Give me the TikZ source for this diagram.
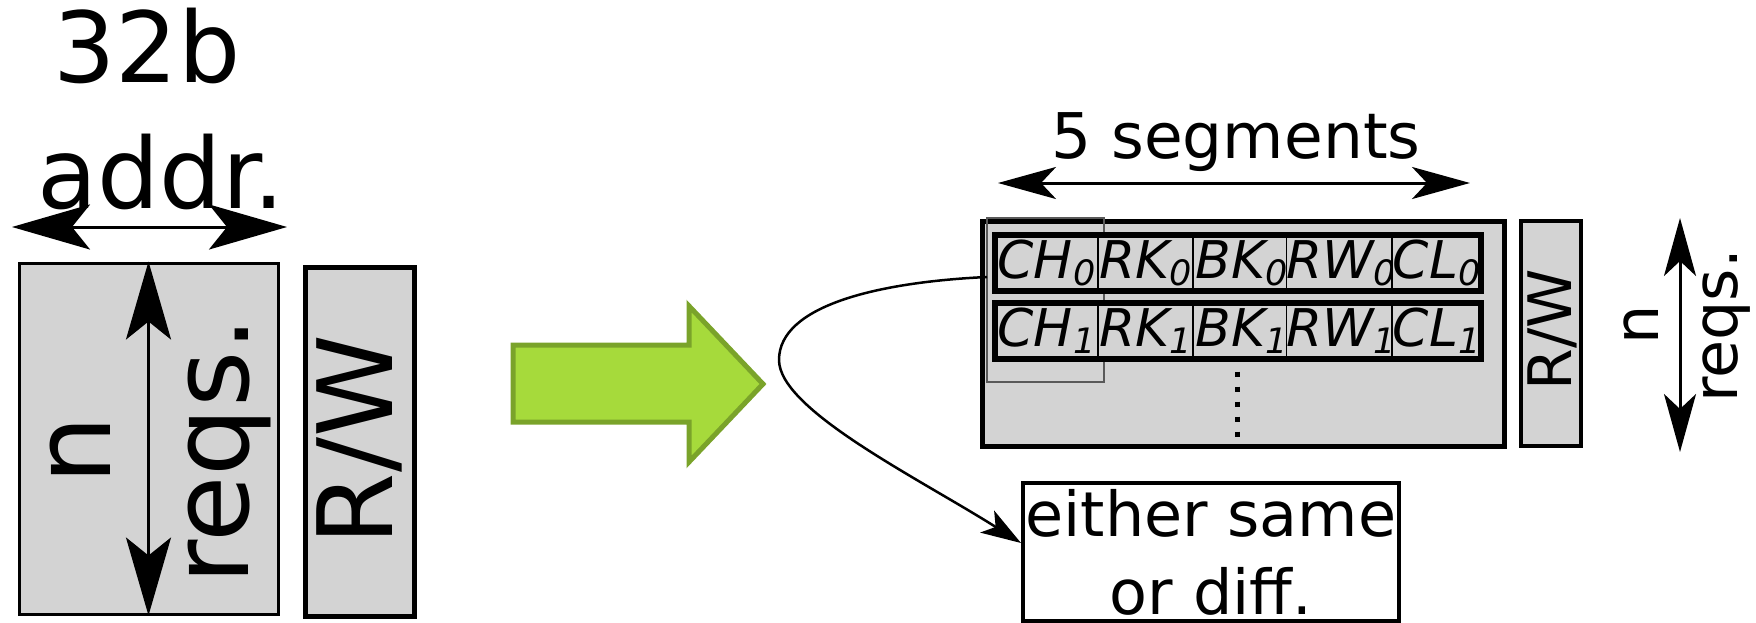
\documentclass[tikz,border=0pt]{standalone}
\usepackage{fontspec}
\setmainfont{DejaVu Sans}
\usetikzlibrary{arrows.meta}
\definecolor{boxgray}{HTML}{D3D3D3}
\definecolor{arrowfill}{HTML}{A6DA3B}
\definecolor{arrowline}{HTML}{7AA32A}
\newcommand{\fsz}[1]{\fontsize{#1}{#1}\selectfont}
\newcommand{\segsub}[1]{\raisebox{-7pt}{\fsz{35}#1}}

\begin{document}
\begin{tikzpicture}[x=1pt, y=-1pt,
  graybox/.style={draw, fill=boxgray, inner sep=0pt},
  cell/.style={draw, fill=boxgray, line width=1.2pt, inner sep=0pt, minimum height=56pt, font=\fsz{52}\itshape},
  rowframe/.style={draw, line width=6pt, inner sep=0pt, minimum width=486pt, minimum height=56pt},
  txt/.style={inner sep=0pt, anchor=base},
  bigtip/.style={{Stealth[length=78pt,width=45pt,inset=18pt]}-{Stealth[length=78pt,width=45pt,inset=18pt]}, line width=3pt},
  midtip/.style={{Stealth[length=58pt,width=32pt,inset=15pt]}-{Stealth[length=58pt,width=32pt,inset=15pt]}, line width=3pt},
  curvetip/.style={-{Stealth[length=40pt,width=26pt,inset=10pt]}, line width=2.5pt},
  bigarrow/.style={draw=arrowline, fill=arrowfill, line width=5pt}]
  \useasboundingbox (0,0) rectangle (1756,623);
  % left: the plain request list
  \node[txt, font=\fsz{98}] (bits) at (147,83) {32b};
  \node[txt, font=\fsz{98}] (addr) at (161,208) {addr.};
  \coordinate (addrw) at (12,227);
  \coordinate (addre) at (287,227);
  \draw[bigtip] (addrw) -- (addre);
  \node[graybox, line width=3pt, minimum width=259pt, minimum height=351pt] (reqbox) at (148.5,438.5) {};
  \draw[bigtip] (reqbox.north) -- (reqbox.south);
  \node[txt, rotate=90, font=\fsz{108}] (nl) at (110,450) {n};
  \node[txt, rotate=90, font=\fsz{108}] (reqsl) at (248,451) {reqs.};
  \node[graybox, line width=5pt, minimum width=109pt, minimum height=349pt] (rwbox) at (359.5,441.5) {};
  \node[txt, rotate=90, font=\fsz{104}] (rwl) at (392,440) {R/W};
  % the big green arrow
  \draw[bigarrow] (513,345) -- (689,345) -- (689,306) -- (763,384) -- (689,462) -- (689,422) -- (513,422) -- cycle;
  % right: the segmented request list
  \node[txt, font=\fsz{63}] (segl) at (1236,158) {5 segments};
  \coordinate (segw) at (998,183);
  \coordinate (sege) at (1470,183);
  \draw[midtip] (segw) -- (sege);
  \node[graybox, line width=5pt, minimum width=522pt, minimum height=225pt] (reqs) at (1243,333.5) {};
  \node[draw=black!65, line width=1.5pt, inner sep=0pt, minimum width=117pt, minimum height=164pt] (sel) at (1045.5,300) {};
  \foreach \r/\yc in {0/263, 1/331} {
    \foreach \seg/\xl/\xr in {CH/995/1098, RK/1098/1193, BK/1193/1290, RW/1290/1392, CL/1392/1481}
      \node[cell, minimum width={(\xr-\xl)*1pt}] (\seg\r) at ({(\xl+\xr)/2},\yc) {\seg\segsub{\r}};
    \node[rowframe] (row\r) at (1238,\yc) {};
  }
  \draw[line width=5pt, dash pattern=on 5pt off 10pt] (1237,371.5) -- (1237,437);
  \node[graybox, line width=4.5pt, minimum width=60pt, minimum height=225pt] (rwbox2) at (1551,333.5) {};
  \node[txt, rotate=90, anchor=center, font=\fsz{60}] (rwr) at (1552,330) {R/W};
  \coordinate (reqn) at (1680,218);
  \coordinate (reqsth) at (1680,452);
  \draw[midtip] (reqn) -- (reqsth);
  \node[txt, rotate=90, font=\fsz{62}] (nr) at (1658,325) {n};
  \node[txt, rotate=90, font=\fsz{62}] (reqsr) at (1737,326) {reqs.};
  % note box
  \node[draw, line width=4pt, fill=white, inner sep=0pt, minimum width=376pt, minimum height=138pt, align=center, font=\fontsize{62}{78}\selectfont] (either) at (1211,552) {either same\\or diff.};
  \coordinate (src) at (987,277);
  \draw[curvetip] (src) .. controls (880,282) and (779,305) .. (779,360) .. controls (779,410) and (920,479) .. ([yshift=9pt]either.west);
\end{tikzpicture}
\end{document}
